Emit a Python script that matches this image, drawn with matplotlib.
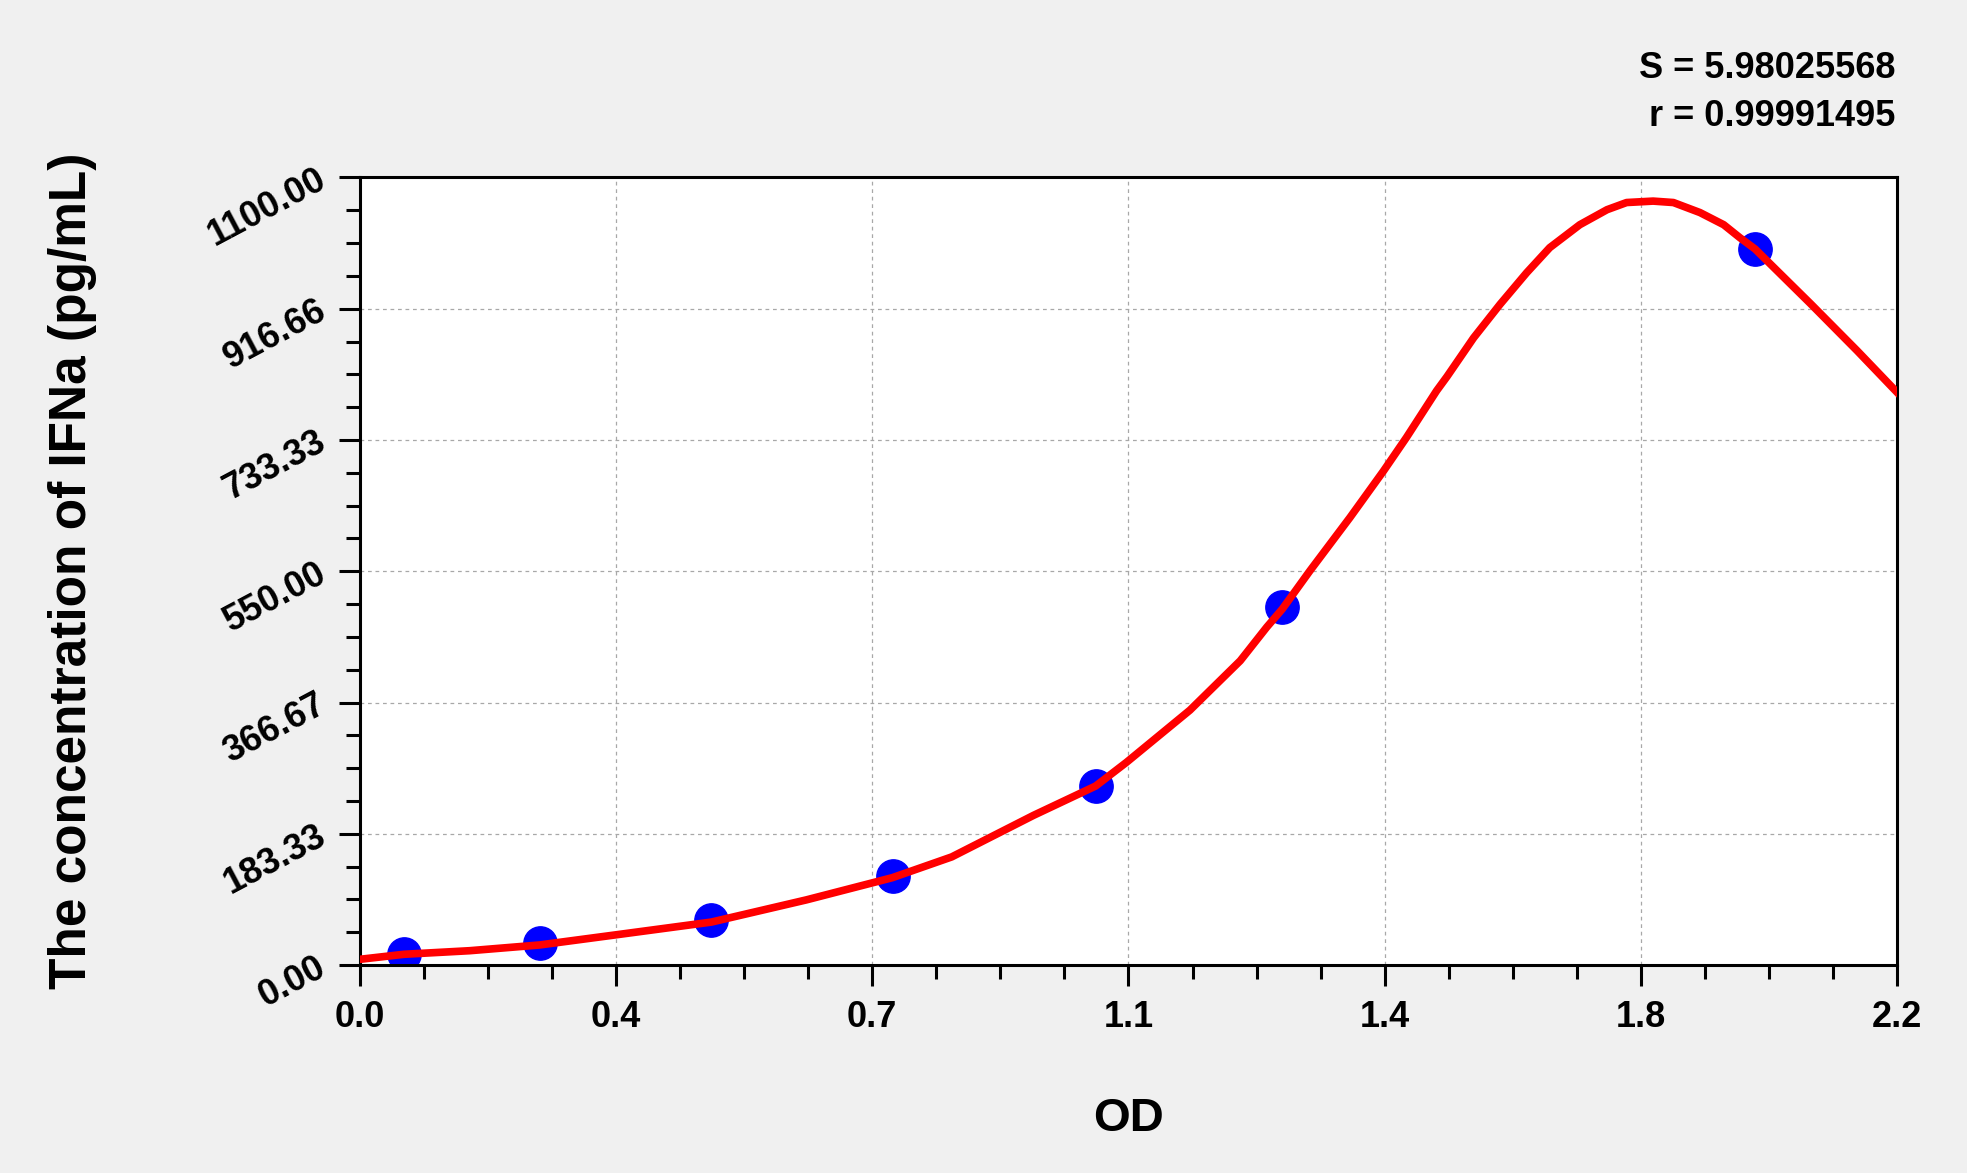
import numpy as np
import matplotlib
matplotlib.use('Agg')
import matplotlib.pyplot as plt
from matplotlib.ticker import FixedLocator

# 标准品数据
od_values = [0.063, 0.257, 0.503, 0.763, 1.053, 1.320, 1.997]
conc_values = [15.625, 31.25, 62.5, 125, 250, 500, 1000]

# 拟合曲线
curve_x = [0.0, 0.063, 0.157, 0.257, 0.365, 0.503, 0.639, 0.762, 0.847, 0.964,
           1.053, 1.097, 1.188, 1.260, 1.298, 1.320, 1.360, 1.417, 1.465, 1.498,
           1.541, 1.556, 1.594, 1.632, 1.670, 1.703, 1.746, 1.785, 1.813, 1.851,
           1.880, 1.918, 1.952, 1.975, 1.997, 2.077, 2.143, 2.200]
curve_y = [8, 15, 20, 28, 42, 60, 91, 122, 151, 209,
           250, 283, 356, 425, 472, 497, 551, 625, 690, 737,
           802, 822, 876, 923, 967, 1002, 1034, 1055, 1065, 1067,
           1065, 1051, 1034, 1016, 1000, 923, 858, 800]

x_ticks = [0.0, 2.2 / 6, 2.2 * 2 / 6, 1.1, 2.2 * 4 / 6, 2.2 * 5 / 6, 2.2]
x_labels = ['0.0', '0.4', '0.7', '1.1', '1.4', '1.8', '2.2']
y_ticks = [0, 1100 / 6, 1100 * 2 / 6, 550, 1100 * 4 / 6, 1100 * 5 / 6, 1100]
y_labels = ['0.00', '183.33', '366.67', '550.00', '733.33', '916.66', '1100.00']

s_value = 'S = 5.98025568'
r_value = 'r = 0.99991495'

plt.rc('font', family='Liberation Sans', weight='bold')

fig = plt.figure(figsize=(19.67, 11.73), dpi=100, facecolor='#f0f0f0')
ax = fig.add_axes([0.183, 0.1773, 0.7814, 0.6714])
ax.set_facecolor('white')

# 曲线和散点
ax.plot(od_values, conc_values, 'o', color='#0000ff', markersize=24, zorder=2)
ax.plot(curve_x, curve_y, color='#ff0000', linewidth=5.5, zorder=3)

ax.set_xlim(0, 2.2)
ax.set_ylim(0, 1100)

# 刻度
minor_x = np.linspace(0, 2.2, 25)
minor_y = np.linspace(0, 1100, 25)
ax.xaxis.set_minor_locator(FixedLocator(minor_x))
ax.yaxis.set_minor_locator(FixedLocator(minor_y))
ax.set_xticks(x_ticks, x_labels, fontsize=26, fontweight='bold')
ax.set_yticks(y_ticks, y_labels, fontsize=26, fontweight='bold',
              rotation=28, rotation_mode='anchor', ha='right', va='center')

ax.tick_params(axis='both', which='major', direction='out', length=15, width=2.2)
ax.tick_params(axis='both', which='minor', direction='out', length=10, width=2.2)
ax.tick_params(axis='x', which='major', pad=10)
ax.tick_params(axis='y', which='major', pad=11)

# 网格
ax.grid(True, which='major', color='#a8a8a8', linestyle=(0, (3, 3)), linewidth=0.9)
ax.set_axisbelow(True)

for sp in ax.spines.values():
    sp.set_linewidth(2.2)
    sp.set_color('black')

ax.set_xlabel('OD', fontsize=34, fontweight='bold', labelpad=45)
ax.set_ylabel('The concentration of IFNa (pg/mL)', fontsize=37, fontweight='bold', labelpad=76)

fig.text(0.9634, 0.9335, s_value, ha='right', va='baseline', fontsize=26, fontweight='bold')
fig.text(0.9634, 0.8926, r_value, ha='right', va='baseline', fontsize=26, fontweight='bold')

plt.savefig('out.png', dpi=100, facecolor=fig.get_facecolor())
